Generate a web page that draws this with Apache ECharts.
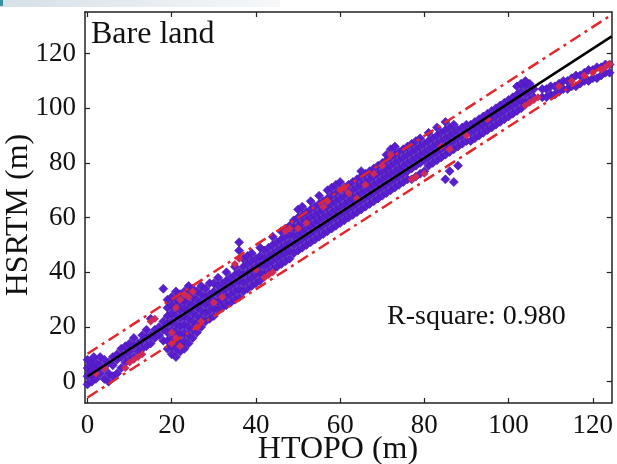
<!DOCTYPE html>
<html>
<head>
<meta charset="utf-8">
<script src="https://cdn.jsdelivr.net/npm/echarts@6/dist/echarts.min.js"></script>
<style>html,body{margin:0;padding:0;background:#fff}#c{width:617px;height:464px}</style>
</head>
<body>
<div id="c"></div>
<script>
// ---- data ----
const xTicks = [0, 20, 40, 60, 80, 100, 120];
const yTicks = [0, 20, 40, 60, 80, 100, 120];
// purple points, grouped by HTOPO value: [htopo, [hsrtm...]]
const purpleCols = [
  [0,[-1,2,5,8]],[0.5,[3,6]],[1,[0,4,7]],[1.5,[2,5,9]],[2,[1,4,7]],[3,[3,6,9]],[4,[1,5,8]],
  [5,[0,3,7]],[6,[2,6,9]],[7,[3,8,10]],[8,[5,9,12]],[9,[7,10,13]],[10,[8,11,14]],
  [11,[9,13,16]],[12,[11,14]],[13,[12,15,17]],[14,[13,16,19]],[15,[14,17,23]],[16,[16,19]],
  [17,[17,20]],[18,[15,19,22,34]],[19,[12,15,18,21,24,27,30]],[20,[10,13,16,19,22,25,28,31]],
  [21,[9,12,15,18,21,24,27,30,33]],[22,[11,14,17,20,23,26,29,32]],[23,[12,15,18,21,24,27,30,33]],
  [24,[14,17,20,23,26,29,32,35]],[25,[16,19,22,25,28,31,34]],[26,[18,21,24,27,30,33]],
  [27,[20,23,26,29,32,35]],[28,[22,25,28,31,34]],[29,[23,26,29,32,36]],[30,[24,27,30,33,36]],
  [31,[26,29,32,35,38]],[32,[27,30,33,36]],[33,[28,31,34,37,40]],[34,[29,32,35,38]],
  [35,[30,33,36,39,42]],[36,[31,34,37,40,48,51]],[37,[33,36,39,42,45]],[38,[34,37,40,43,46]],
  [39,[35,38,41,44,47]],[40,[36,39,42,45]],[41,[37,40,43,46,49]],[42,[39,42,45,48]],
  [43,[40,43,46,49]],[44,[41,44,47,50,53]],[45,[42,45,48,51]],[46,[43,46,49,52,55]],
  [47,[44,47,50,53,56]],[48,[45,48,51,54,57]],[49,[47,50,53,56,59]],[50,[48,51,54,57,60,63]],
  [51,[49,52,55,58,61,64]],[52,[50,53,56,59,62]],[53,[51,54,57,60,63,66]],[54,[52,55,58,61,64]],
  [55,[53,56,59,62,65,68]],[56,[54,57,60,63,66]],[57,[55,58,61,64,67,70]],[58,[56,59,62,65,68,71]],
  [59,[57,60,63,66,69,72]],[60,[58,61,64,67,70,73]],[61,[59,62,65,68,71]],[62,[60,63,66,69,72]],
  [63,[61,64,67,70,73]],[64,[62,65,68,71,74]],[65,[63,66,69,72,75,77]],[66,[64,67,70,73,76]],
  [67,[65,68,71,74,77]],[68,[66,69,72,75,78]],[69,[67,70,73,76,79]],[70,[68,71,74,77,80]],
  [71,[69,72,75,78,81,83]],[72,[70,73,76,79,82,85]],[73,[71,74,77,80,83,86]],[74,[72,75,78,81,84]],
  [75,[73,76,79,82,85]],[76,[74,77,80,83,86]],[77,[74,78,81,84,87]],[78,[75,79,82,85,88]],
  [79,[76,80,83,86,89]],[80,[77,81,84,87]],[81,[79,82,85,88,91]],[82,[80,83,86,89]],
  [83,[81,84,87,90,93]],[84,[82,85,88,91]],[85,[74,83,86,89,92,95]],[86,[77,84,87,90,93]],
  [87,[73,85,88,91,94]],[88,[79,86,89,92]],[89,[87,90,93]],[90,[88,91,94]],[91,[88,91,94]],
  [92,[89,92,95]],[93,[90,93,96]],[94,[91,94,97]],[95,[92,95,98]],[96,[93,96,99]],
  [97,[94,97,100]],[98,[95,98,101]],[99,[96,99,102]],[100,[97,100,103]],[101,[98,101,104]],
  [102,[99,102,105,108]],[103,[100,103,106,109]],[104,[102,105,108,110]],[105,[103,106,109]],
  [106,[104,107]],[108,[104,107]],[109,[104,107]],[110,[105,108]],[111,[105,108]],
  [112,[106,109]],[113,[107,110]],[114,[107,110]],[115,[108,111]],[116,[108,112]],
  [117,[109,112]],[118,[110,113]],[119,[110,114]],[120,[111,114]],[121,[111,115]],
  [122,[112,115]],[123,[113,116]],[124,[113,116]]
];
// red points [htopo, hsrtm]
const redPoints = [
  [20,14],[21,16],[22,13],[20,18],[22,30],[23,32],[24,31],[25,33],[21,27],[10,7],[11,8],[12,9],
  [13,10],[9,5],[15,22],[16,23],[26,20],[27,22],[35,43],[36,45],[42,38],[43,39],[44,40],[47,55],
  [48,56],[56,64],[57,66],[60,70],[61,71],[62,69],[66,72],[68,76],[70,79],[72,83],[77,74],[78,75],
  [80,76],[84,86],[86,85],[90,90],[95,96],[104,101],[105,102],[106,103],[107,104],[112,108],
  [115,110],[118,112],[120,113],[122,114],[123,115],[124,116],[2,3],[4,5],[30,29],[32,31],
  [40,41],[50,56],[52,58],[64,67]
];
// fitted line and prediction bounds (end points)
const fitLine = [[0, 1.9], [124.5, 126.3]];
const upperBound = [[0, 10.2], [124.5, 134.2]];
const lowerBound = [[0, -5.8], [124.5, 117.5]];
const xAxisName = 'HTOPO (m)';
const yAxisName = 'HSRTM (m)';
const rSquareText = 'R-square: 0.980';
const panelTitle = 'Bare land';

// ---- build ----
const purplePoints = [];
purpleCols.forEach(c => c[1].forEach(y => purplePoints.push([c[0], y])));

const FONT = '"Liberation Serif", "Times New Roman", serif';
const axisCommon = (pos, showLabel, ticks) => ({
  type: 'value',
  position: pos,
  splitLine: { show: false },
  axisLine: { show: true, onZero: false, lineStyle: { color: '#222', width: 1.5 } },
  axisTick: { show: true, inside: true, length: 5, customValues: ticks, lineStyle: { color: '#222', width: 1.2 } },
  axisLabel: { show: showLabel, customValues: ticks, color: '#111', fontFamily: FONT, fontSize: 27, margin: 9 }
});

const chart = echarts.init(document.getElementById('c'));
chart.setOption({
  animation: false,
  backgroundColor: '#fff',
  grid: { left: 85, right: 5.3, top: 12, bottom: 61, outerBoundsMode: 'none' },
  xAxis: [
    Object.assign(axisCommon('bottom', true, xTicks), { min: -0.6, max: 124.5 }),
    Object.assign(axisCommon('top', false, xTicks), { min: -0.6, max: 124.5 })
  ],
  yAxis: [
    Object.assign(axisCommon('left', true, yTicks), { min: -7.8, max: 135.2 }),
    Object.assign(axisCommon('right', false, yTicks), { min: -7.8, max: 135.2 })
  ],
  graphic: [
    { type: 'rect', left: 0, top: 0, shape: { width: 280, height: 7 },
      style: { fill: new echarts.graphic.LinearGradient(0, 0, 1, 0, [{offset: 0, color: '#d5e0e8'}, {offset: 1, color: '#f6f8fa'}]) }, z: -1 },
    { type: 'rect', left: 0, top: 0, shape: { width: 3, height: 6 }, style: { fill: '#3a8fa0' }, z: -1 },
    { type: 'text', left: 91, top: 19, style: { text: panelTitle, font: '32px ' + FONT, fill: '#111' }, z: 10 },
    { type: 'text', left: 387, top: 303, style: { text: rSquareText, font: '28px ' + FONT, fill: '#111' }, z: 10 },
    { type: 'text', x: 338, y: 450, style: { text: xAxisName, font: '32px ' + FONT, fill: '#111', align: 'center', verticalAlign: 'middle' }, z: 10 },
    { type: 'text', x: 19, y: 215, rotation: Math.PI / 2, style: { text: yAxisName, font: '32px ' + FONT, fill: '#111', align: 'center', verticalAlign: 'middle' }, z: 10 }
  ],
  series: [
    { type: 'scatter', xAxisIndex: 0, yAxisIndex: 0, data: purplePoints, symbol: 'diamond', symbolSize: 9,
      itemStyle: { color: '#5a1ed2', borderColor: '#42179c', borderWidth: 0.6, opacity: 1 }, silent: true, z: 2 },
    { type: 'scatter', xAxisIndex: 0, yAxisIndex: 0, data: redPoints, symbol: 'diamond', symbolSize: 8,
      itemStyle: { color: '#cf2a55', opacity: 1 }, silent: true, z: 3 },
    { type: 'line', data: fitLine, showSymbol: false, silent: true, z: 4,
      lineStyle: { color: '#000', width: 2.5 } },
    { type: 'line', data: upperBound, showSymbol: false, silent: true, z: 5,
      lineStyle: { color: '#e3262b', width: 2.5, type: [12, 5, 3, 5] } },
    { type: 'line', data: lowerBound, showSymbol: false, silent: true, z: 5,
      lineStyle: { color: '#e3262b', width: 2.5, type: [12, 5, 3, 5] } }
  ]
});
</script>
</body>
</html>
